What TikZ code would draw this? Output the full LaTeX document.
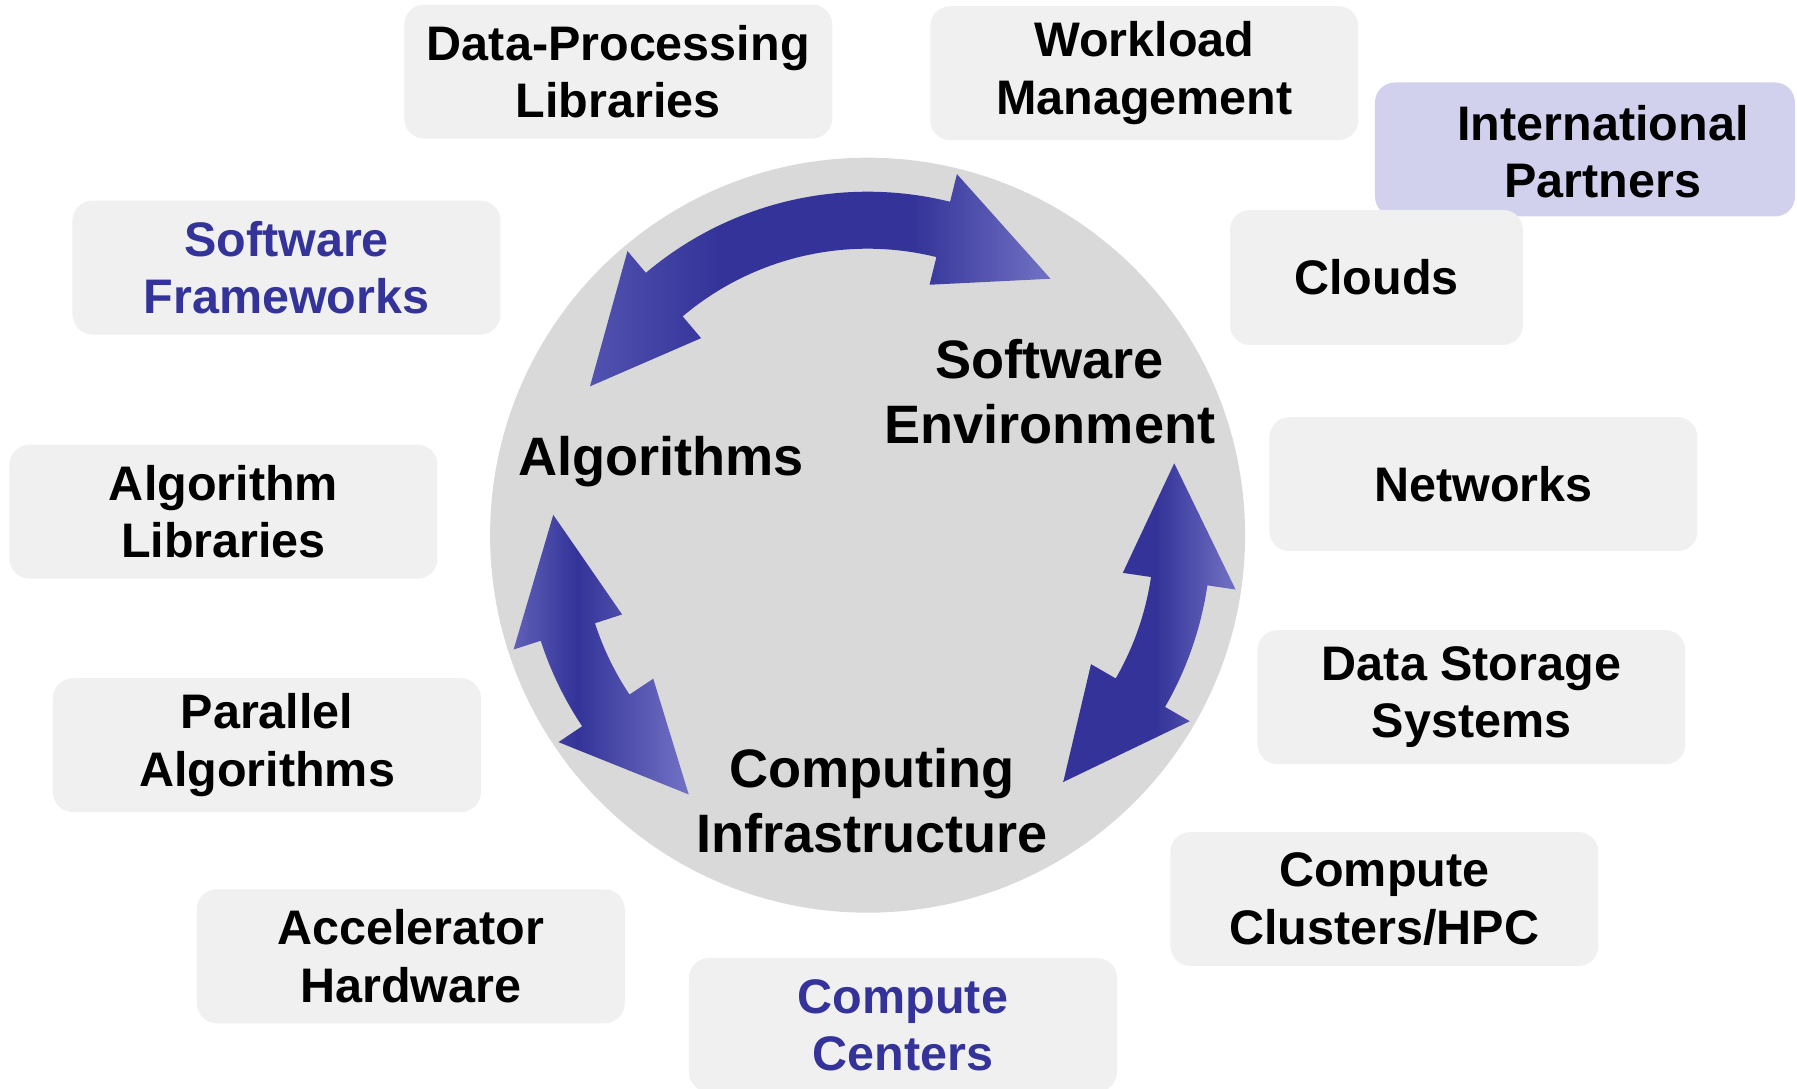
\documentclass[tikz,border=0pt]{standalone}
\usepackage{fontspec}
\setmainfont{Liberation Sans}
\usepackage{tikz}
\usetikzlibrary{
	positioning,
	shapes.geometric
}
\definecolor{BoxGray}{RGB}{240,240,240}
\definecolor{HubGray}{RGB}{217,217,217}
\definecolor{PartnerLilac}{RGB}{209,209,238}
\definecolor{DeepBlue}{RGB}{51,51,153}
\definecolor{MidBlue}{RGB}{82,82,176}
\definecolor{EdgeBlue}{RGB}{96,96,184}
\definecolor{PaleBlue}{RGB}{114,114,196}

% horizontal fades for the three double arrows (inner 25bp..75bp spans the path)
\pgfdeclarehorizontalshading{arrowtop}{100bp}{color(0bp)=(MidBlue); color(25bp)=(MidBlue); color(39bp)=(DeepBlue); color(60bp)=(DeepBlue); color(75bp)=(PaleBlue); color(100bp)=(PaleBlue)}
\pgfdeclarehorizontalshading{arrowleft}{100bp}{color(0bp)=(EdgeBlue); color(25bp)=(EdgeBlue); color(43bp)=(DeepBlue); color(75bp)=(PaleBlue); color(100bp)=(PaleBlue)}
\pgfdeclarehorizontalshading{arrowright}{100bp}{color(0bp)=(DeepBlue); color(25bp)=(DeepBlue); color(52bp)=(DeepBlue); color(75bp)=(PaleBlue); color(100bp)=(PaleBlue)}

\def\arrR{3.15}  % radius of the arrow centre line
\def\arrW{0.57}  % half width of a head
\def\arrw{0.285} % half width of the shaft
\def\arrH{21.6}  % head length in degrees

% curved double arrow between the tip angles #1 < #2
\newcommand{\swirl}[3]{%
	\shade[shading=#3]
		(#1:\arrR) -- ({#1+\arrH}:{\arrR-\arrW}) -- ({#1+\arrH}:{\arrR-\arrw})
		arc[start angle={#1+\arrH}, end angle={#2-\arrH}, radius={\arrR-\arrw}]
		-- ({#2-\arrH}:{\arrR-\arrW}) -- (#2:\arrR) -- ({#2-\arrH}:{\arrR+\arrW})
		-- ({#2-\arrH}:{\arrR+\arrw})
		arc[start angle={#2-\arrH}, end angle={#1+\arrH}, radius={\arrR+\arrw}]
		-- ({#1+\arrH}:{\arrR+\arrW}) -- cycle;
}

\tikzset{
	areatext/.style={align=center, font=\bfseries\fontsize{13.8}{16.3}\selectfont},
	areabox/.style={areatext, rectangle, rounded corners=0.2cm, fill=BoxGray,
		minimum width=4.28cm, minimum height=1.34cm, inner sep=0pt},
	corelabel/.style={align=center, font=\bfseries\fontsize{15.4}{18.5}\selectfont}
}

\begin{document}
\begin{tikzpicture}
	\useasboundingbox (-8.676,-5.538) rectangle (9.294,5.352);
	
	\node[circle, fill=HubGray, minimum size=7.55cm, inner sep=0pt] (hub) at (0,0) {};
	
	\swirl{54.5}{151.8}{arrowtop}
	\swirl{176.3}{235.4}{arrowleft}
	\swirl{-51.6}{13.2}{arrowright}
	
	\node[corelabel] (alg) at (-2.064,0.74) {Algorithms};
	\node[corelabel] (swenv) at (1.822,1.438) {Software\\Environment};
	\node[corelabel] (infra) at (0.045,-2.653) {Computing\\Infrastructure};
	
	% surrounding areas
	\node[areabox] (dataproc) at (-2.493,4.636) {Data-Processing\\Libraries};
	\node[areabox] (workload) at (2.767,4.62) {Workload\\Management};
	\node[areabox, fill=PartnerLilac, minimum width=4.2cm] (partners) at (7.174,3.857) {};
	\node[areatext] (partnerstext) at (7.354,3.835) {International\\Partners};
	\node[areabox, minimum width=2.93cm, minimum height=1.35cm] (clouds) at (5.089,2.577) {Clouds};
	\node[areabox, text=DeepBlue] (frameworks) at (-5.811,2.676) {Software\\Frameworks};
	\node[areabox] (alglibs) at (-6.441,0.235) {Algorithm\\Libraries};
	\node[areabox] (networks) at (6.159,0.510) {Networks};
	\node[areabox] (storage) at (6.039,-1.62) {Data Storage\\Systems};
	\node[areabox] (parallel) at (-6.006,-2.10) {Parallel\\Algorithms};
	\node[areabox] (clusters) at (5.168,-3.638) {Compute\\Clusters/HPC};
	\node[areabox] (accel) at (-4.568,-4.211) {Accelerator\\Hardware};
	\node[areabox, text=DeepBlue] (centers) at (0.354,-4.898) {Compute\\Centers};
\end{tikzpicture}
\end{document}
